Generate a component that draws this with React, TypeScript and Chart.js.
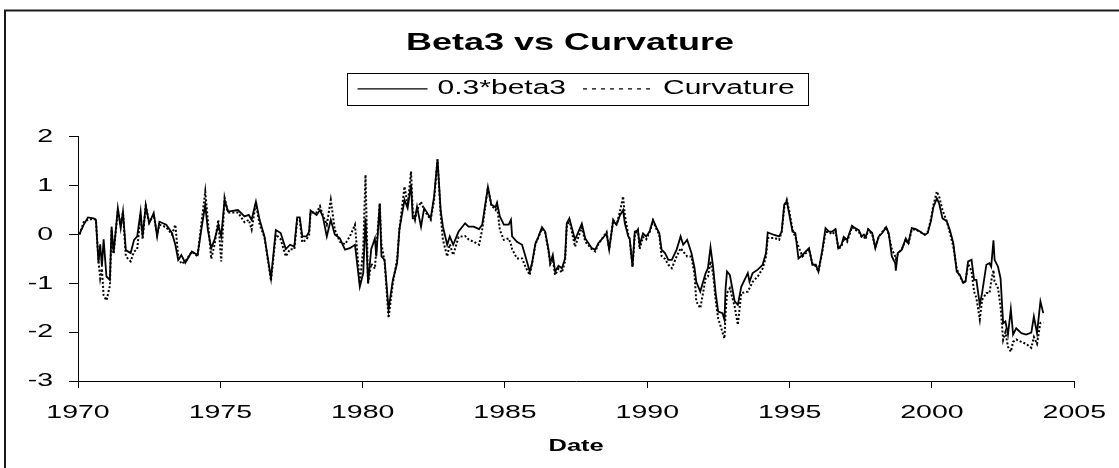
import React, { useEffect, useRef } from 'react';
import { Chart, registerables } from 'chart.js';

Chart.register(...registerables);

// ---------------- data ----------------
const chartTitle = 'Beta3 vs Curvature';
const seriesLabels = ['0.3*beta3', 'Curvature'];
const xAxisTitle = 'Date';
const xTickValues = [1970, 1975, 1980, 1985, 1990, 1995, 2000, 2005];
const yTickValues = [-3, -2, -1, 0, 1, 2];

const dates = [
  1970.05, 1970.2, 1970.35, 1970.55, 1970.63, 1970.72, 1970.78, 1970.84, 1970.9, 1971.0,
  1971.12, 1971.18, 1971.25, 1971.4, 1971.5, 1971.58, 1971.68, 1971.85, 1971.97, 1972.08,
  1972.2, 1972.27, 1972.38, 1972.5, 1972.66, 1972.78, 1972.86, 1973.1, 1973.3, 1973.42,
  1973.52, 1973.63, 1973.77, 1974.0, 1974.2, 1974.33, 1974.47, 1974.56, 1974.68, 1974.8,
  1974.93, 1975.03, 1975.15, 1975.27, 1975.62, 1975.85, 1976.0, 1976.1, 1976.25, 1976.38,
  1976.55, 1976.78, 1976.95, 1977.12, 1977.3, 1977.45, 1977.6, 1977.7, 1977.79, 1977.88,
  1978.03, 1978.12, 1978.17, 1978.38, 1978.5, 1978.6, 1978.74, 1978.88, 1979.02, 1979.2,
  1979.38, 1979.55, 1979.73, 1979.9, 1980.02, 1980.1, 1980.19, 1980.3, 1980.43, 1980.48,
  1980.6, 1980.66, 1980.77, 1980.91, 1981.06, 1981.21, 1981.29, 1981.47, 1981.58, 1981.7,
  1981.76, 1981.84, 1981.91, 1982.05, 1982.16, 1982.39, 1982.51, 1982.63, 1982.74, 1982.82,
  1982.97, 1983.06, 1983.18, 1983.37, 1983.6, 1983.72, 1983.9, 1984.09, 1984.2, 1984.4,
  1984.52, 1984.67, 1984.72, 1984.82, 1984.96, 1985.13, 1985.21, 1985.25, 1985.42, 1985.6,
  1985.72, 1985.87, 1985.95, 1986.07, 1986.18, 1986.3, 1986.41, 1986.53, 1986.59, 1986.68,
  1986.76, 1986.88, 1987.0, 1987.11, 1987.17, 1987.26, 1987.46, 1987.7, 1987.82, 1988.05,
  1988.17, 1988.28, 1988.57, 1988.66, 1988.8, 1988.92, 1989.03, 1989.15, 1989.21, 1989.33,
  1989.38, 1989.48, 1989.56, 1989.67, 1989.73, 1989.85, 1989.96, 1990.08, 1990.2, 1990.33,
  1990.42, 1990.5, 1990.62, 1990.74, 1990.86, 1991.03, 1991.17, 1991.26, 1991.4, 1991.55,
  1991.66, 1991.72, 1991.86, 1992.05, 1992.13, 1992.22, 1992.31, 1992.4, 1992.49, 1992.64,
  1992.71, 1992.75, 1992.8, 1992.9, 1993.07, 1993.18, 1993.3, 1993.53, 1993.59, 1993.7,
  1993.88, 1994.05, 1994.17, 1994.23, 1994.46, 1994.63, 1994.72, 1994.81, 1994.9, 1994.98,
  1995.1, 1995.2, 1995.31, 1995.45, 1995.63, 1995.68, 1995.8, 1995.92, 1996.01, 1996.15,
  1996.26, 1996.38, 1996.5, 1996.61, 1996.71, 1996.82, 1996.9, 1997.02, 1997.19, 1997.3,
  1997.43, 1997.53, 1997.61, 1997.67, 1997.76, 1997.9, 1998.01, 1998.13, 1998.25, 1998.39,
  1998.48, 1998.59, 1998.71, 1998.73, 1998.8, 1998.94, 1999.08, 1999.17, 1999.29, 1999.43,
  1999.58, 1999.75, 1999.85, 1999.96, 2000.05, 2000.17, 2000.25, 2000.37, 2000.52, 2000.63,
  2000.75, 2000.87, 2000.98, 2001.1, 2001.18, 2001.27, 2001.39, 2001.48, 2001.56, 2001.68,
  2001.76, 2001.91, 2002.02, 2002.08, 2002.16, 2002.2, 2002.32, 2002.41, 2002.5, 2002.58,
  2002.67, 2002.77, 2002.85, 2002.96, 2003.14, 2003.31, 2003.49, 2003.58, 2003.69, 2003.81,
  2003.91,
];

const beta3Values = [
  0.0, 0.2, 0.35, 0.33, 0.3, -0.58, -0.2, -0.66, -0.1, -0.86,
  -0.93, 0.16, -0.38, 0.54, 0.13, 0.47, -0.32, -0.38, -0.11, -0.04,
  0.47, -0.04, 0.59, 0.23, 0.44, -0.04, 0.26, 0.2, 0.03, -0.21,
  -0.52, -0.42, -0.58, -0.35, -0.42, 0.09, 0.61, 0.1, -0.28, -0.1,
  0.2, -0.04, 0.71, 0.47, 0.5, 0.37, 0.4, 0.3, 0.67, 0.3,
  -0.04, -0.9, 0.09, 0.03, -0.3, -0.21, -0.25, 0.35, 0.35, -0.04,
  -0.04, 0.06, 0.49, 0.4, 0.5, 0.37, -0.04, 0.3, 0.0, -0.08,
  -0.31, -0.28, -0.21, -1.07, -0.79, 0.33, -1.0, -0.3, -0.08, -0.45,
  0.63, -0.45, -0.52, -1.54, -0.93, -0.59, 0.1, 0.71, 0.54, 1.02,
  0.33, 0.33, 0.57, 0.16, 0.54, 0.33, 0.78, 1.54, 0.5, 0.16,
  -0.21, -0.04, -0.21, 0.06, 0.23, 0.16, 0.16, 0.11, 0.2, 0.97,
  0.61, 0.56, 0.65, 0.37, 0.2, 0.2, 0.3, -0.04, -0.15, -0.21,
  -0.45, -0.76, -0.59, -0.18, -0.04, 0.15, 0.06, -0.31, -0.59, -0.42,
  -0.76, -0.64, -0.69, -0.49, 0.23, 0.33, -0.11, 0.22, -0.08, -0.28,
  -0.31, -0.18, 0.02, -0.31, 0.28, 0.2, 0.38, 0.5, 0.23, -0.04,
  -0.08, -0.66, 0.06, 0.09, -0.21, 0.02, -0.04, 0.06, 0.3, 0.13,
  0.03, -0.31, -0.38, -0.52, -0.52, -0.31, -0.04, -0.21, -0.11, -0.38,
  -0.69, -0.97, -1.17, -0.79, -0.69, -0.26, -0.66, -1.2, -1.58, -1.61,
  -1.75, -1.1, -0.76, -0.83, -1.37, -1.44, -1.07, -0.79, -0.97, -0.79,
  -0.72, -0.62, -0.38, 0.04, -0.01, -0.04, 0.06, 0.61, 0.68, 0.44,
  0.06, 0.03, -0.49, -0.42, -0.31, -0.28, -0.62, -0.62, -0.76, -0.31,
  0.13, 0.06, 0.06, 0.11, -0.28, -0.21, -0.05, -0.11, 0.18, 0.13,
  0.09, -0.04, 0.0, -0.05, 0.11, 0.03, -0.28, -0.04, 0.03, 0.15,
  0.03, -0.45, -0.59, -0.74, -0.38, -0.31, -0.08, -0.18, 0.13, 0.11,
  0.06, -0.01, 0.03, 0.27, 0.56, 0.74, 0.64, 0.33, 0.27, 0.09,
  -0.18, -0.76, -0.83, -0.99, -0.96, -0.55, -0.52, -0.93, -0.93, -1.44,
  -1.2, -0.62, -0.59, -0.66, -0.12, -0.52, -0.66, -0.9, -1.82, -1.78,
  -2.05, -1.53, -2.05, -1.92, -2.02, -2.05, -2.01, -1.68, -2.02, -1.37,
  -1.61,
];

const curvatureValues = [
  0.0, 0.25, 0.3, 0.32, 0.3, -0.55, -0.9, -0.7, -1.25, -1.35,
  -1.05, 0.1, -0.4, 0.5, 0.2, 0.45, -0.45, -0.55, -0.35, -0.3,
  0.4, -0.1, 0.59, 0.25, 0.4, 0.0, 0.2, 0.15, 0.0, 0.2,
  -0.45, -0.6, -0.55, -0.35, -0.45, 0.2, 0.88, 0.3, -0.5, -0.2,
  0.3, -0.55, 0.75, 0.45, 0.45, 0.25, 0.3, 0.1, 0.65, 0.2,
  -0.05, -0.95, 0.0, -0.1, -0.45, -0.3, -0.3, 0.3, 0.3, -0.16,
  -0.1, 0.0, 0.45, 0.45, 0.58, 0.4, 0.2, 0.71, 0.1, -0.15,
  -0.2, -0.04, 0.2, -1.0, -0.3, 1.22, -1.0, -0.6, -0.7, -0.3,
  0.64, -0.2, -0.55, -1.71, -1.0, -0.5, 0.1, 0.98, 0.6, 1.29,
  0.5, 0.3, 0.5, 0.67, 0.5, 0.3, 0.7, 1.54, 0.4, -0.11,
  -0.45, -0.2, -0.42, -0.05, -0.03, -0.1, -0.15, -0.21, 0.1, 0.97,
  0.6, 0.5, 0.6, 0.09, -0.11, -0.08, -0.2, -0.3, -0.49, -0.49,
  -0.66, -0.83, -0.6, -0.2, -0.05, 0.12, 0.05, -0.35, -0.6, -0.5,
  -0.83, -0.7, -0.78, -0.55, 0.15, 0.3, -0.25, 0.15, -0.15, -0.3,
  -0.35, -0.2, 0.05, -0.31, 0.3, 0.2, 0.45, 0.78, 0.4, 0.0,
  -0.1, -0.66, 0.0, 0.1, -0.3, -0.05, -0.1, 0.05, 0.28, 0.1,
  0.0, -0.44, -0.5, -0.62, -0.69, -0.45, -0.28, -0.35, -0.45, -0.45,
  -0.83, -1.37, -1.51, -0.9, -0.86, -0.55, -0.8, -1.34, -1.72, -2.0,
  -2.13, -1.6, -1.2, -1.1, -1.48, -1.85, -1.2, -1.17, -1.1, -0.97,
  -0.86, -0.7, -0.45, -0.07, -0.07, -0.11, 0.05, 0.55, 0.71, 0.5,
  0.1, -0.05, -0.25, -0.45, -0.35, -0.3, -0.6, -0.65, -0.76, -0.35,
  0.05, 0.05, 0.0, 0.08, -0.3, -0.25, -0.08, -0.15, 0.15, 0.1,
  0.05, -0.05, -0.05, -0.1, 0.1, 0.0, -0.25, -0.05, 0.05, 0.15,
  0.0, -0.3, -0.45, -0.5, -0.4, -0.3, -0.1, -0.2, 0.1, 0.1,
  0.05, 0.0, 0.05, 0.3, 0.6, 0.88, 0.78, 0.5, 0.27, 0.03,
  -0.25, -0.7, -0.85, -1.0, -0.95, -0.6, -0.75, -1.17, -1.3, -1.74,
  -1.34, -1.2, -1.2, -0.96, -0.73, -0.96, -1.1, -1.48, -2.16, -2.0,
  -2.3, -2.4, -2.2, -2.15, -2.2, -2.24, -2.32, -2.1, -2.24, -1.81,
  -1.8,
];

// ---------------- styling ----------------
const FONT = "'Liberation Sans', Arial, sans-serif";
const TEXT_STRETCH = 1.5; // the reference text is horizontally widened
const CANVAS_W = 1119;
const CANVAS_H = 468;

function stretchText(ctx: any) {
  if (ctx.__stretched) return;
  ctx.__stretched = true;
  const origFill = ctx.fillText.bind(ctx);
  const origMeasure = ctx.measureText.bind(ctx);
  ctx.fillText = (text: string, x: number, y: number, maxWidth?: number) => {
    ctx.save();
    ctx.translate(x, y);
    ctx.scale(TEXT_STRETCH, 1);
    if (maxWidth !== undefined && maxWidth !== null) origFill(text, 0, 0, maxWidth / TEXT_STRETCH);
    else origFill(text, 0, 0);
    ctx.restore();
  };
  ctx.measureText = (text: string) => {
    const m = origMeasure(text);
    return {
      width: m.width * TEXT_STRETCH,
      actualBoundingBoxAscent: m.actualBoundingBoxAscent,
      actualBoundingBoxDescent: m.actualBoundingBoxDescent,
      actualBoundingBoxLeft: m.actualBoundingBoxLeft * TEXT_STRETCH,
      actualBoundingBoxRight: m.actualBoundingBoxRight * TEXT_STRETCH,
      fontBoundingBoxAscent: m.fontBoundingBoxAscent,
      fontBoundingBoxDescent: m.fontBoundingBoxDescent,
    };
  };
}

const frameBorder = {
  id: 'frameBorder',
  afterDraw(chart: any) {
    const ctx = chart.ctx;
    ctx.save();
    ctx.strokeStyle = '#1a1a1a';
    ctx.lineWidth = 2;
    ctx.strokeRect(5, 10.5, 2000, 2000);
    ctx.restore();
  },
};

const legendFrame = {
  id: 'legendFrame',
  afterDraw(chart: any) {
    const lg = chart.legend;
    const hb = lg && lg.legendHitBoxes;
    if (!hb || !hb.length) return;
    const left = Math.min(...hb.map((h: any) => h.left)) - 11;
    const right = Math.max(...hb.map((h: any) => h.left + h.width)) + 13;
    const cy = hb[0].top + hb[0].height / 2;
    const ctx = chart.ctx;
    ctx.save();
    ctx.strokeStyle = '#000';
    ctx.lineWidth = 1;
    ctx.setLineDash([]);
    ctx.strokeRect(Math.round(left) + 0.5, Math.round(cy - 16) + 0.5, Math.round(right - left), 32);
    ctx.restore();
  },
};

export default function App() {
  const canvasRef = useRef<HTMLCanvasElement | null>(null);

  useEffect(() => {
    const canvas = canvasRef.current;
    if (!canvas) return;
    const ctx = canvas.getContext('2d');
    if (!ctx) return;
    stretchText(ctx);

    const beta3Points = dates.map((d, i) => ({ x: d, y: beta3Values[i] }));
    const curvaturePoints = dates.map((d, i) => ({ x: d, y: curvatureValues[i] }));

    const chart = new Chart(ctx, {
      type: 'line',
      data: {
        datasets: [
          {
            label: seriesLabels[0],
            data: beta3Points,
            borderColor: '#000',
            backgroundColor: '#000',
            borderWidth: 1.8,
            pointRadius: 0,
            pointHoverRadius: 0,
            tension: 0,
            fill: false,
            yAxisID: 'y',
          },
          {
            label: seriesLabels[1],
            data: curvaturePoints,
            borderColor: '#000',
            backgroundColor: '#000',
            borderWidth: 2,
            borderDash: [2, 2],
            pointRadius: 0,
            pointHoverRadius: 0,
            tension: 0,
            fill: false,
            yAxisID: 'y',
          },
        ],
      },
      options: {
        animation: false,
        responsive: false,
        devicePixelRatio: 1,
        events: [],
        layout: { padding: { left: 21, right: 0, top: 0, bottom: 0 } },
        plugins: {
          tooltip: { enabled: false },
          title: {
            display: true,
            text: chartTitle,
            color: '#000',
            font: { family: FONT, size: 24, weight: 'bold' },
            padding: { top: 29, bottom: 4 },
          },
          subtitle: {
            display: true,
            text: '',
            weight: 500,
            position: 'top',
            font: { family: FONT, size: 10 },
            padding: { top: 16, bottom: 0 },
          },
          legend: {
            display: true,
            position: 'top',
            fullSize: false,
            labels: {
              color: '#000',
              font: { family: FONT, size: 20 },
              usePointStyle: true,
              pointStyle: 'line',
              pointStyleWidth: 70,
              padding: 17,
              generateLabels: (c: any) => {
                const items = (Chart as any).defaults.plugins.legend.labels.generateLabels(c);
                items.forEach((it: any, i: number) => {
                  it.lineWidth = 1.2;
                  it.lineDash = i === 1 ? [4, 5] : [];
                  it.pointStyle = 'line';
                });
                return items;
              },
            },
          },
        },
        scales: {
          x: {
            type: 'linear',
            min: 1970,
            max: 2005,
            afterBuildTicks: (s: any) => {
              s.ticks = xTickValues.map((v) => ({ value: v }));
            },
            afterFit: (s: any) => {
              s.height = 87;
            },
            ticks: {
              autoSkip: false,
              maxRotation: 0,
              color: '#000',
              padding: 13,
              font: { family: FONT, size: 19 },
              callback: (v: any) => String(v),
            },
            grid: {
              display: true,
              drawOnChartArea: false,
              drawTicks: true,
              tickLength: 7,
              color: '#000',
              lineWidth: 1,
            },
            border: { display: true, color: '#000', width: 1 },
            title: {
              display: true,
              text: xAxisTitle,
              color: '#000',
              font: { family: FONT, size: 17, weight: 'bold' },
              padding: { top: 0, bottom: 11 },
            },
          },
          y: {
            type: 'linear',
            position: 'left',
            min: -3,
            max: 2,
            afterBuildTicks: (s: any) => {
              s.ticks = yTickValues.map((v) => ({ value: v }));
            },
            afterFit: (s: any) => {
              s.width = 57;
            },
            ticks: {
              color: '#000',
              padding: 16,
              font: { family: FONT, size: 19 },
              callback: (v: any) => String(v),
            },
            grid: {
              display: true,
              drawOnChartArea: false,
              drawTicks: true,
              tickLength: 9,
              color: '#000',
              lineWidth: 1,
            },
            border: { display: true, color: '#000', width: 1 },
          },
          yRightSpace: {
            type: 'linear',
            position: 'right',
            min: -3,
            max: 2,
            display: true,
            afterFit: (s: any) => {
              s.width = 39;
            },
            ticks: { display: false },
            grid: { display: false, drawTicks: false },
            border: { display: false },
          },
        },
      },
      plugins: [frameBorder, legendFrame],
    } as any);

    return () => {
      chart.destroy();
    };
  }, []);

  return (
    <div style={{ position: 'absolute', left: 0, top: 0, width: CANVAS_W, height: CANVAS_H, background: '#fff' }}>
      <canvas ref={canvasRef} width={CANVAS_W} height={CANVAS_H} style={{ display: 'block' }} />
    </div>
  );
}
